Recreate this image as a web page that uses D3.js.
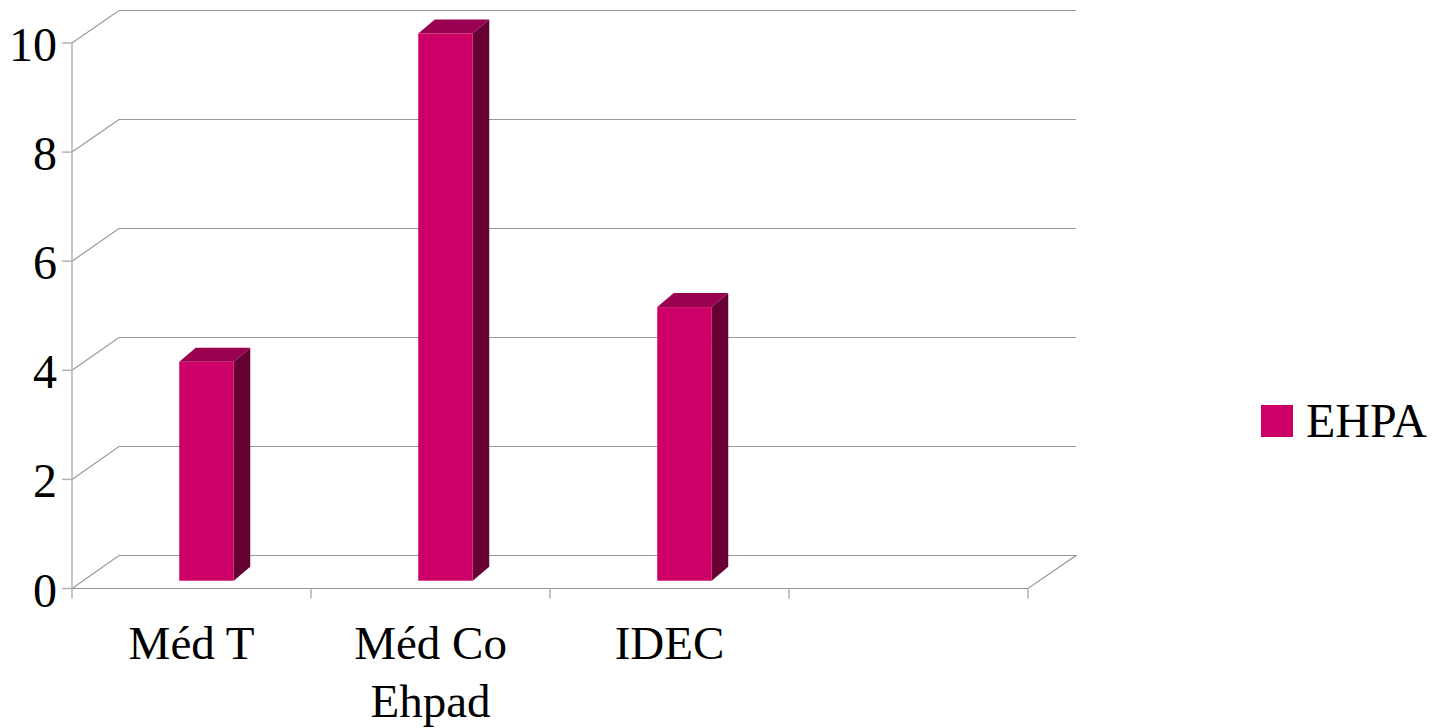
<!DOCTYPE html>
<html><head><meta charset="utf-8">
<script src="https://cdn.jsdelivr.net/npm/d3@7"></script>
<style>html,body{margin:0;padding:0;background:#fff;}svg{display:block;}</style>
</head><body>
<svg id="c" width="1443" height="728"></svg>
<script>
const categories = ["Méd T", "Méd Co\nEhpad", "IDEC", ""];
const seriesName = "EHPA";
const values = [4, 10, 5, null];
const yTicks = [0, 2, 4, 6, 8, 10];

(function () {
const svg = d3.select("#c");
const font = "'Liberation Serif','Times New Roman',serif";

const x = d3.scaleBand().domain(categories).range([72, 1028]).paddingInner(0).paddingOuter(0);
const yF = d3.scaleLinear().domain([0, 10]).range([588.5, 43]);
const yB = d3.scaleLinear().domain([0, 10]).range([555.5, 10.5]);
const yBar = d3.scaleLinear().domain([0, 10]).range([580.7, 33.5]);
const backDX = 47;
const barDX = 15, depthDX = 16.5, depthDY = -14;
const barW = x.bandwidth() * 0.228;

const gridColor = "#999999", axisColor = "#b3b3b3";

const g = svg.append("g");
yTicks.forEach(v => {
  if (v === 0) return;
  g.append("polyline")
    .attr("points", [[72, yF(v)], [72 + backDX, yB(v)], [1076, yB(v)]].map(p => p.join(",")).join(" "))
    .attr("fill", "none").attr("stroke", gridColor).attr("stroke-width", 1.2);
});
g.append("polyline")
  .attr("points", [[72, yF(0)], [72 + backDX, yB(0)], [1076, yB(0)], [1028, yF(0)], [72, yF(0)]].map(p => p.join(",")).join(" "))
  .attr("fill", "none").attr("stroke", gridColor).attr("stroke-width", 1.2);

g.append("line").attr("x1", 72).attr("x2", 72).attr("y1", yF(10)).attr("y2", yF(0) + 10)
  .attr("stroke", axisColor).attr("stroke-width", 1.5);
yTicks.forEach(v => {
  g.append("line").attr("x1", 62).attr("x2", 72).attr("y1", yF(v)).attr("y2", yF(v))
    .attr("stroke", axisColor).attr("stroke-width", 1.5);
  g.append("text").attr("x", 57).attr("y", yF(v) + 18).attr("text-anchor", "end")
    .attr("font-family", font).attr("font-size", 48).attr("fill", "#000").text(v);
});
const bounds = categories.map(c => x(c)).concat([x(categories[categories.length - 1]) + x.bandwidth()]);
bounds.forEach(b => {
  if (b === 72) return;
  g.append("line").attr("x1", b).attr("x2", b).attr("y1", yF(0)).attr("y2", yF(0) + 10)
    .attr("stroke", axisColor).attr("stroke-width", 1.5);
});
categories.forEach(c => {
  if (!c) return;
  const lines = c.split("\n");
  const t = g.append("text").attr("text-anchor", "middle")
    .attr("font-family", font).attr("font-size", 47).attr("fill", "#000");
  lines.forEach((ln, i) => {
    t.append("tspan").attr("x", x(c) + x.bandwidth() / 2).attr("y", 659 + i * 58).text(ln);
  });
});

const frontColor = "#cc0066", topColor = "#990050", sideColor = "#660033";
categories.forEach((c, i) => {
  const v = values[i];
  if (v == null) return;
  const x0 = x(c) + x.bandwidth() / 2 + barDX - barW / 2, x1 = x0 + barW;
  const y0 = yBar(0), y1 = yBar(v);
  const bg = svg.append("g");
  bg.append("polygon").attr("points", [[x1, y1], [x1 + depthDX, y1 + depthDY], [x1 + depthDX, y0 + depthDY], [x1, y0]].map(p => p.join(",")).join(" ")).attr("fill", sideColor);
  bg.append("polygon").attr("points", [[x0, y1], [x0 + depthDX, y1 + depthDY], [x1 + depthDX, y1 + depthDY], [x1, y1]].map(p => p.join(",")).join(" ")).attr("fill", topColor);
  bg.append("rect").attr("x", x0).attr("y", y1).attr("width", barW).attr("height", y0 - y1).attr("fill", frontColor);
});

svg.append("rect").attr("x", 1261).attr("y", 405).attr("width", 32).attr("height", 32).attr("fill", frontColor);
svg.append("text").attr("x", 1306).attr("y", 437).attr("font-family", font).attr("font-size", 48).attr("fill", "#000").text(seriesName);
})();
</script>
</body></html>
